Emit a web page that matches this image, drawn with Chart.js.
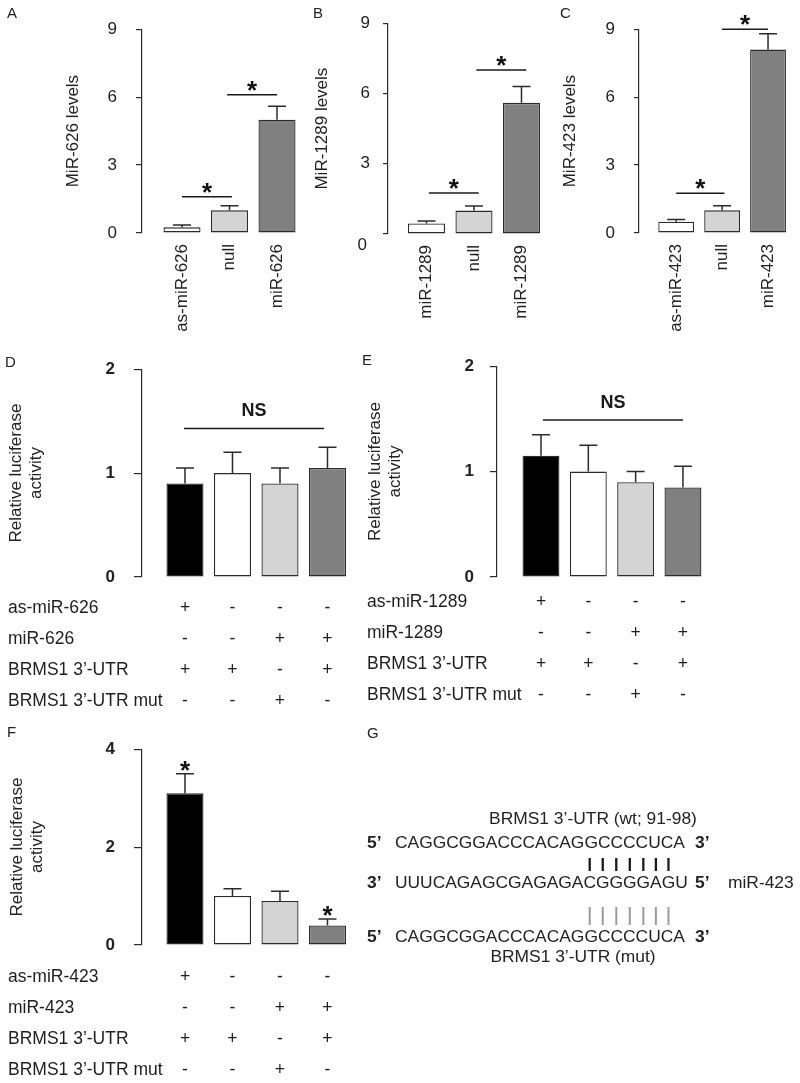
<!DOCTYPE html>
<html>
<head>
<meta charset="utf-8">
<script src="https://cdn.jsdelivr.net/npm/chart.js@4.4.1/dist/chart.umd.min.js"></script>
<style>
  body { margin: 0; background: #fff; }
  #wrap { position: relative; width: 800px; height: 1083px; overflow: hidden; }
  canvas { position: absolute; }
</style>
</head>
<body>
<div id="wrap">
  <canvas id="cA" width="312" height="340" style="left:0;top:0"></canvas>
  <canvas id="cB" width="257" height="340" style="left:300px;top:0"></canvas>
  <canvas id="cC" width="260" height="340" style="left:540px;top:0"></canvas>
  <canvas id="cD" width="360" height="380" style="left:0;top:340px"></canvas>
  <canvas id="cE" width="440" height="380" style="left:360px;top:340px"></canvas>
  <canvas id="cF" width="360" height="363" style="left:0;top:720px"></canvas>
  <canvas id="cG" width="800" height="1083" style="left:0;top:0;pointer-events:none"></canvas>
</div>
<script>
// ---- data ----
const catsA = ['as-miR-626', 'null', 'miR-626'];
const levelsA = [0.25, 1.0, 5.0];
const errA = [0.1, 0.2, 0.6];
const sigA = [[1.0, 2.05, 1.6], [1.95, 3.0, 6.1]];   // [from, to, level]

const catsB = ['miR-1289', 'null', 'miR-1289'];
const levelsB = [0.45, 1.0, 5.6];
const errB = [0.1, 0.2, 0.7];
const sigB = [[1.05, 2.1, 1.75], [2.05, 3.1, 7.0]];

const catsC = ['as-miR-423', 'null', 'miR-423'];
const levelsC = [0.5, 1.0, 8.1];
const errC = [0.1, 0.2, 0.7];
const sigC = [[1.0, 2.05, 1.75], [2.0, 3.0, 9.0]];

const levelTicks = [0, 3, 6, 9];

const rowsD = ['as-miR-626', 'miR-626', 'BRMS1 3’-UTR', 'BRMS1 3’-UTR mut'];
const lucD = [0.9, 1.0, 0.9, 1.05];
const errD = [0.15, 0.2, 0.15, 0.2];
const nsD = [0.98, 3.93, 1.43];

const rowsE = ['as-miR-1289', 'miR-1289', 'BRMS1 3’-UTR', 'BRMS1 3’-UTR mut'];
const lucE = [1.15, 1.0, 0.9, 0.85];
const errE = [0.2, 0.25, 0.1, 0.2];
const nsE = [1.04, 4.0, 1.49];

const rowsF = ['as-miR-423', 'miR-423', 'BRMS1 3’-UTR', 'BRMS1 3’-UTR mut'];
const lucF = [3.1, 1.0, 0.9, 0.4];
const errF = [0.4, 0.15, 0.2, 0.13];
const starF = [0, 3];

// same design in D, E and F
const signs = [['+', '-', '-', '-'], ['-', '-', '+', '+'], ['+', '+', '-', '+'], ['-', '-', '+', '-']];
const lucTicksDE = [0, 1, 2];
const lucTicksF = [0, 2, 4];

const utrWt = 'CAGGCGGACCCACAGGCCCCUCA';
const mir423 = 'UUUCAGAGCGAGAGACGGGGAGU';
const utrMut = 'CAGGCGGACCCACAGGCCCCUCA';
const pairIdx = [15, 16, 17, 18, 19, 20, 21];

// ---- styling ----
const FONT = "'Liberation Sans', Arial, Helvetica, sans-serif";
const ink = '#2b2b2b';
const fillsABC = ['#ffffff', '#d4d4d4', '#808080'];
const fillsLuc = ['#000000', '#ffffff', '#d4d4d4', '#808080'];

Chart.defaults.font.family = FONT;
Chart.defaults.color = '#222';

function drawStar(ctx, cx, cy) {
  ctx.save();
  ctx.font = 'bold 26px ' + FONT;
  ctx.textAlign = 'center';
  ctx.textBaseline = 'alphabetic';
  ctx.fillStyle = '#111';
  ctx.fillText('*', cx, cy + 15);
  ctx.restore();
}

// error bars, significance marks and the +/- table under the bars
const extras = {
  id: 'extras',
  afterDraw(chart, args, o) {
    const { ctx, scales: { x, y } } = chart;
    const bars = chart.getDatasetMeta(0).data;
    ctx.save();
    ctx.strokeStyle = ink;
    ctx.lineWidth = 1.5;
    bars.forEach((bar, i) => {
      const top = y.getPixelForValue(o.values[i] + o.errors[i]);
      ctx.beginPath();
      ctx.moveTo(bar.x, bar.y);
      ctx.lineTo(bar.x, top);
      ctx.moveTo(bar.x - 9, top);
      ctx.lineTo(bar.x + 9, top);
      ctx.stroke();
    });

    ctx.strokeStyle = '#1a1a1a';
    (o.sig || []).forEach(([a, b, v]) => {
      const x0 = x.getPixelForValue(a), x1 = x.getPixelForValue(b);
      const yy = y.getPixelForValue(v);
      ctx.beginPath();
      ctx.moveTo(x0, yy);
      ctx.lineTo(x1, yy);
      ctx.stroke();
      drawStar(ctx, (x0 + x1) / 2, yy - 11);
    });

    if (o.ns) {
      const [a, b, v] = o.ns;
      const x0 = x.getPixelForValue(a), x1 = x.getPixelForValue(b);
      const yy = y.getPixelForValue(v);
      ctx.beginPath();
      ctx.moveTo(x0, yy);
      ctx.lineTo(x1, yy);
      ctx.stroke();
      ctx.font = 'bold 18px ' + FONT;
      ctx.fillStyle = '#1a1a1a';
      ctx.textAlign = 'center';
      ctx.fillText('NS', (x0 + x1) / 2, yy - 12);
    }

    (o.stars || []).forEach(i => {
      const top = y.getPixelForValue(o.values[i] + o.errors[i]);
      drawStar(ctx, bars[i].x, top - 10);
    });

    if (o.zeroShift) {
      ctx.font = '17px ' + FONT;
      ctx.fillStyle = '#222';
      ctx.textAlign = 'right';
      ctx.textBaseline = 'middle';
      ctx.fillText('0', y.right - o.zeroShift[0], y.getPixelForValue(0) + o.zeroShift[1]);
    }

    if (o.rows) {
      ctx.font = '17.5px ' + FONT;
      ctx.fillStyle = '#1e1e1e';
      ctx.textBaseline = 'alphabetic';
      o.rows.forEach((label, r) => {
        const yy = chart.chartArea.bottom + o.rowTop + r * o.rowGap;
        ctx.textAlign = 'left';
        ctx.fillText(label, o.rowX, yy);
        ctx.textAlign = 'center';
        o.signs[r].forEach((s, i) => ctx.fillText(s, bars[i].x, yy));
      });
    }
    ctx.restore();
  }
};

function makePanel(id, p) {
  const barData = p.values.map((v, i) => ({ x: i + 1, y: v }));
  const xScale = {
    type: 'linear',
    offset: false,
    min: p.xMin,
    max: p.xMax,
    display: !!p.cats,
    grid: { display: false, drawTicks: false, offset: false },
    border: { display: false },
    afterBuildTicks: s => { s.ticks = p.values.map((v, i) => ({ value: i + 1 })); },
    ticks: {
      autoSkip: false,
      minRotation: 90,
      maxRotation: 90,
      padding: 11,
      color: '#222',
      font: { size: 17 },
      callback: v => (p.cats ? p.cats[v - 1] : '')
    }
  };
  if (p.xHeight) xScale.afterFit = s => { s.height = p.xHeight; };

  return new Chart(document.getElementById(id), {
    type: 'bar',
    data: {
      datasets: [{
        data: barData,
        backgroundColor: p.fills,
        borderColor: ink,
        borderWidth: 1.3,
        borderSkipped: false,
        barPercentage: 0.78,
        categoryPercentage: 1,
        clip: false
      }]
    },
    options: {
      responsive: false,
      animation: false,
      events: [],
      layout: { padding: p.pad },
      plugins: {
        legend: { display: false },
        tooltip: { enabled: false },
        extras: {
          values: p.values, errors: p.errors, sig: p.sig, ns: p.ns, stars: p.stars,
          zeroShift: p.zeroShift, rows: p.rows, signs: p.signs,
          rowX: p.rowX, rowTop: p.rowTop, rowGap: 31
        }
      },
      scales: {
        x: xScale,
        y: {
          min: 0,
          max: p.yMax,
          grid: { drawOnChartArea: false, drawTicks: true, tickLength: p.tickLen, color: ink, lineWidth: 1.2 },
          border: { display: true, color: ink, width: 1.2 },
          afterBuildTicks: s => { s.ticks = p.yTicks.map(v => ({ value: v })); },
          afterFit: s => { s.width = p.yWidth; },
          ticks: {
            padding: p.tickPad,
            color: '#222',
            font: { size: 17, weight: p.boldTicks ? 'bold' : 'normal' },
            callback: v => (p.zeroShift && v === 0 ? '' : v)
          },
          title: {
            display: true,
            text: p.title,
            color: '#222',
            font: { size: 17 },
            padding: { top: p.titlePad, bottom: 0 }
          }
        }
      }
    },
    plugins: [extras]
  });
}

makePanel('cA', {
  values: levelsA, errors: errA, cats: catsA, fills: fillsABC, sig: sigA,
  xMin: 0.158, xMax: 3.484, yMax: 9, yTicks: levelTicks, yWidth: 142, xHeight: 107,
  pad: { top: 21, right: 12, bottom: 0, left: 0 },
  title: 'MiR-626 levels', titlePad: 63, tickPad: 19, tickLen: 6
});
makePanel('cB', {
  values: levelsB, errors: errB, cats: catsB, fills: fillsABC, sig: sigB,
  xMin: 0.19, xMax: 3.495, yMax: 9, yTicks: levelTicks, yWidth: 88, xHeight: 106,
  pad: { top: 23, right: 12, bottom: 0, left: 0 },
  title: 'MiR-1289 levels', titlePad: 11.8, tickPad: 13, tickLen: 5, zeroShift: [21, 11]
});
makePanel('cC', {
  values: levelsC, errors: errC, cats: catsC, fills: fillsABC, sig: sigC,
  xMin: 0.19, xMax: 3.46, yMax: 9, yTicks: levelTicks, yWidth: 99, xHeight: 107,
  pad: { top: 22, right: 4, bottom: 0, left: 0 },
  title: 'MiR-423 levels', titlePad: 19.8, tickPad: 19, tickLen: 5
});
makePanel('cD', {
  values: lucD, errors: errD, fills: fillsLuc, ns: nsD,
  xMin: 0.095, xMax: 4.432, yMax: 2, yTicks: lucTicksDE, yWidth: 142,
  pad: { top: 25, right: 12, bottom: 143, left: 0 },
  title: ['Relative luciferase', 'activity'], titlePad: 5.8, tickPad: 19, tickLen: 8, boldTicks: true,
  rows: rowsD, signs: signs, rowX: 8, rowTop: 36
});
makePanel('cE', {
  values: lucE, errors: errE, fills: fillsLuc, ns: nsE,
  xMin: 0.07, xMax: 6.22, yMax: 2, yTicks: lucTicksDE, yWidth: 137,
  pad: { top: 25, right: 12, bottom: 143, left: 0 },
  title: ['Relative luciferase', 'activity'], titlePad: 4.8, tickPad: 16, tickLen: 7, boldTicks: true,
  rows: rowsE, signs: signs, rowX: 7, rowTop: 30
});
makePanel('cF', {
  values: lucF, errors: errF, fills: fillsLuc, stars: starF,
  xMin: 0.095, xMax: 4.432, yMax: 4, yTicks: lucTicksF, yWidth: 142,
  pad: { top: 14, right: 12, bottom: 138, left: 0 },
  title: ['Relative luciferase', 'activity'], titlePad: 6.8, tickPad: 19, tickLen: 8, boldTicks: true,
  rows: rowsF, signs: signs, rowX: 8, rowTop: 37
});

// ---- panel letters and the sequence alignment (G) ----
const g = document.getElementById('cG').getContext('2d');
g.fillStyle = '#222';
g.font = '15px ' + FONT;
[['A', 7, 18], ['B', 313, 18], ['C', 560, 18], ['D', 5, 367], ['E', 362, 365], ['F', 7, 737], ['G', 367, 738]]
  .forEach(([t, x, y]) => g.fillText(t, x, y));

const seqFont = '17.4px ' + FONT;
const endFont = 'bold 17.4px ' + FONT;
const seqLeft = 395;

function strand(left, seq, right, y, tag) {
  g.textAlign = 'left';
  g.font = endFont;
  g.fillText(left, 367, y);
  g.fillText(right, 695, y);
  g.font = seqFont;
  g.fillText(seq, seqLeft, y);
  if (tag) g.fillText(tag, 728, y);
}

g.font = seqFont;
g.textAlign = 'center';
g.fillText('BRMS1 3’-UTR (wt; 91-98)', 593, 824);
strand('5’', utrWt, '3’', 848);
strand('3’', mir423, '5’', 888, 'miR-423');
strand('5’', utrMut, '3’', 942);
g.font = seqFont;
g.textAlign = 'center';
g.fillText('BRMS1 3’-UTR (mut)', 573, 962);

g.font = seqFont;
pairIdx.forEach(i => {
  const cx = seqLeft + g.measureText(mir423.slice(0, i)).width + g.measureText(mir423[i]).width / 2;
  g.strokeStyle = '#1a1a1a';
  g.lineWidth = 2.3;
  g.beginPath(); g.moveTo(cx, 858); g.lineTo(cx, 871); g.stroke();
  g.strokeStyle = '#9a9a9a';
  g.lineWidth = 2;
  g.beginPath(); g.moveTo(cx, 907); g.lineTo(cx, 925); g.stroke();
});
</script>
</body>
</html>
